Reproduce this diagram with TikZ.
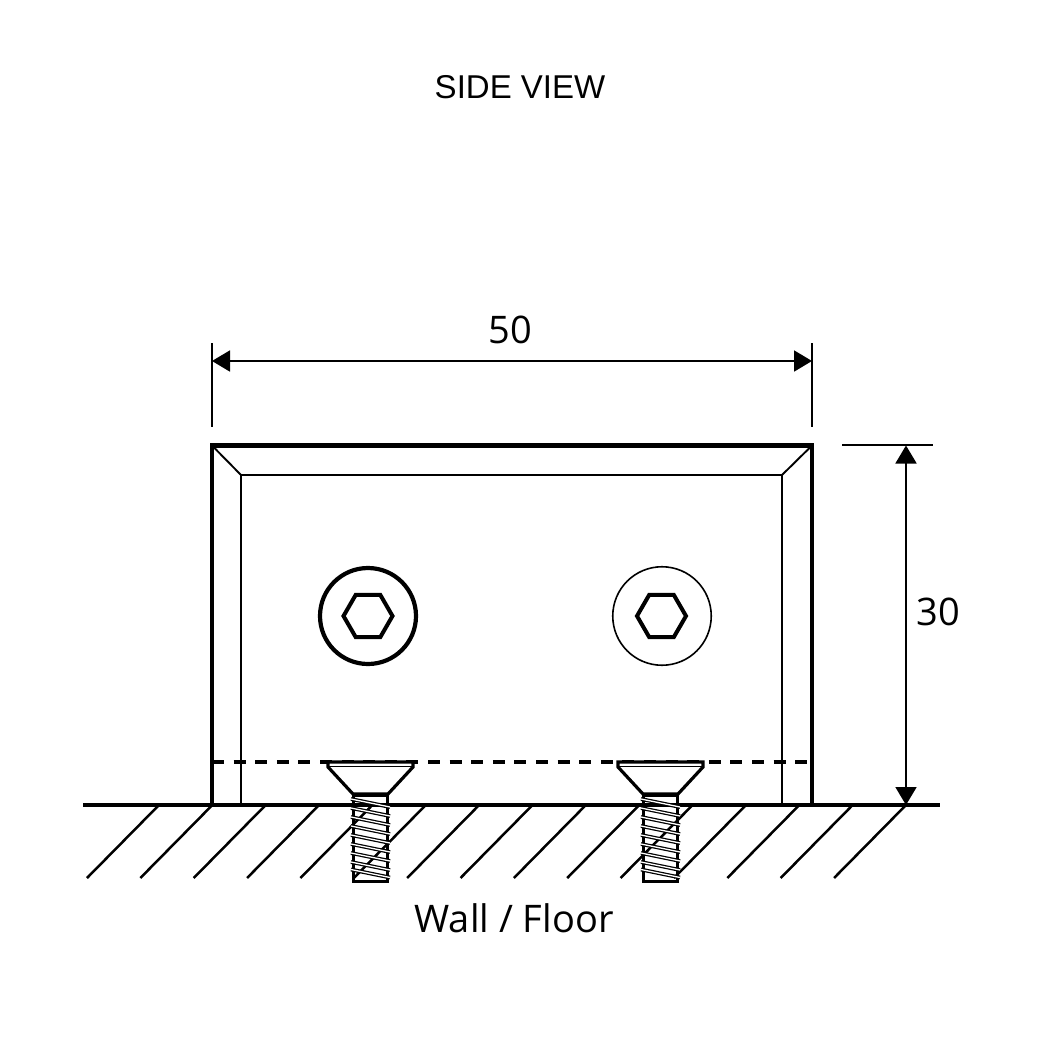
\documentclass[tikz,border=0pt]{standalone}
\usepackage{fontspec}
\setmainfont{Liberation Sans}
\newfontfamily\dimfont{Open Sans}
\usetikzlibrary{arrows.meta}
\tikzset{
  thickline/.style={line width=4pt,line cap=butt},
  thinline/.style={line width=1.9pt},
  hatchline/.style={line width=2.5pt},
  dimline/.style={line width=1.9pt,{Triangle[length=18pt,width=21pt]}-{Triangle[length=18pt,width=21pt]}},
  dimtext/.style={font=\dimfont\fontsize{38}{42}\selectfont,inner sep=0pt},
  hexa/.style={line width=4pt,line join=miter},
}
\newcommand{\screwshape}[1]{%
  \begin{scope}[xshift=#1pt]
    \fill[white] (328,762) -- (413,762) -- (413,767) -- (388,795) -- (353,795) -- (328,767) -- cycle;
    \draw[line width=3.2pt,line join=miter] (328,762) -- (413,762) -- (413,767) -- (388,794) -- (353,794) -- (328,767) -- cycle;
    \draw[line width=1.2pt] (328,766.5) -- (413,766.5);
    \draw[line width=3.6pt] (353,795.5) -- (388,795.5);
    \draw[line width=3.4pt] (352,881.5) -- (389,881.5);
    \draw[line width=3.4pt] (353.5,795) -- (353.5,883);
    \draw[line width=3.4pt] (387.5,795) -- (387.5,883);
    \foreach \yy in {799,808,817,826,835,844,853,862,869.5}{
      \draw[line width=3.8pt] (351,\yy) -- (390,\yy+8);
      \draw[white,line width=1.3pt] (351,\yy) -- (390,\yy+8);
    }
  \end{scope}}
\begin{document}
\begin{tikzpicture}[x=1pt,y=-1pt]
\useasboundingbox (0,0) rectangle (1042,1042);
\fill[white] (0,0) rectangle (1042,1042);
% hatching
\foreach \k in {0,...,14}{
  \draw[hatchline] ({159+53.36*\k},805) -- ({87+53.36*\k},878);
}
% ground
\coordinate (gl) at (83,805);
\coordinate (gr) at (940,805);
\draw[thickline] (gl) -- (gr);
% inner bevel
\coordinate (tl) at (212,445.5);
\coordinate (tr) at (812,445.5);
\coordinate (bl) at (212,805);
\coordinate (br) at (812,805);
\coordinate (itl) at (241,475);
\coordinate (itr) at (782,475);
\coordinate (ibl) at (241,805);
\coordinate (ibr) at (782,805);
\draw[thinline] (ibl) -- (itl) -- (itr) -- (ibr);
\draw[thinline] (tl) -- (itl);
\draw[thinline] (tr) -- (itr);
\draw[line width=4.4pt,line join=miter] (bl) -- (tl) -- (tr) -- (br);
% dashed line
\draw[line width=3.6pt,dash pattern=on 12pt off 9.6pt] (212,762) -- (812,762);
% bolts
\node[draw,circle,line width=4.2pt,minimum size=96pt,inner sep=0pt] (boltA) at (368,616) {};
\node[draw,circle,line width=1.6pt,minimum size=98.5pt,inner sep=0pt] (boltB) at (662,616) {};
\draw[hexa] (392.5,616) -- (380.25,594.8) -- (355.75,594.8) -- (343.5,616) -- (355.75,637.2) -- (380.25,637.2) -- cycle;
\draw[hexa] (686,616) -- (673.75,594.8) -- (649.25,594.8) -- (637,616) -- (649.25,637.2) -- (673.75,637.2) -- cycle;
% screws
\screwshape{0}
\screwshape{290}
% width dimension
\coordinate (wa) at (212,343);
\coordinate (wb) at (212,427);
\coordinate (wc) at (812,343);
\coordinate (wd) at (812,427);
\coordinate (we) at (212,361);
\coordinate (wf) at (812,361);
\draw[thinline] (wa) -- (wb);
\draw[thinline] (wc) -- (wd);
\draw[dimline] (we) -- (wf);
% height dimension
\coordinate (ha) at (842,445);
\coordinate (hb) at (933,445);
\coordinate (hc) at (906,445.5);
\coordinate (hd) at (906,805);
\draw[thinline] (ha) -- (hb);
\draw[dimline] (hc) -- (hd);
% text
\node[font=\fontsize{33}{38}\selectfont,inner sep=0pt] (title) at (520,87) {SIDE VIEW};
\node[dimtext] (w) at (510,330) {50};
\node[dimtext] (h) at (938,612) {30};
\node[dimtext] (floor) at (514,918) {Wall / Floor};
\end{tikzpicture}
\end{document}
